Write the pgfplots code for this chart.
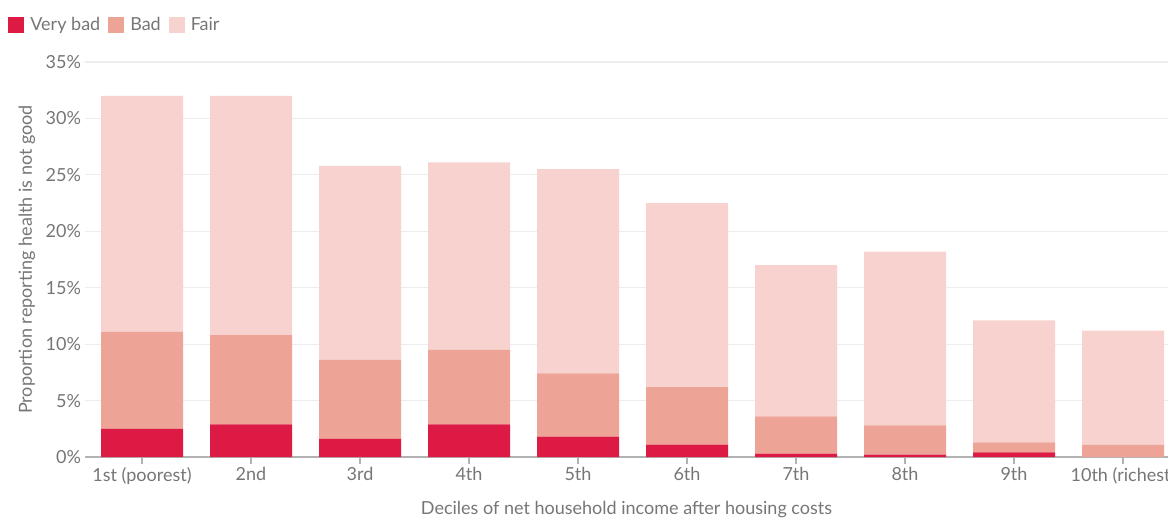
\documentclass[border=0pt]{standalone}
\usepackage{pgfplots}
\pgfplotsset{compat=1.18}
\usepackage{pgfplotstable}
\usepackage{fontspec}
\setmainfont{Lato}

\definecolor{verybad}{HTML}{DC1A44}
\definecolor{bad}{HTML}{EDA396}
\definecolor{fair}{HTML}{F7D2CF}
\definecolor{txt}{HTML}{767676}

\pgfplotstableread{
x verybad bad fair
0 2.5 8.6 20.9
1 2.9 7.9 21.2
2 1.6 7.0 17.2
3 2.9 6.6 16.6
4 1.8 5.6 18.1
5 1.1 5.1 16.3
6 0.3 3.3 13.4
7 0.2 2.6 15.4
8 0.4 0.9 10.8
9 0.0 1.1 10.1
}\health

\begin{document}
\begin{tikzpicture}
\begin{axis}[
  name=ax,
  width=541.5pt, height=197.5pt,
  scale only axis,
  ybar stacked,
  bar width=41pt,
  xmin=-0.523, xmax=9.413,
  ymin=0, ymax=35,
  ytick={0,5,...,35},
  yticklabel={\pgfmathprintnumber{\tick}\%},
  xtick=data,
  xticklabels={1st (poorest),2nd,3rd,4th,5th,6th,7th,8th,9th,10th (richest)},
  /pgf/number format/assume math mode=true,
  font=\fontsize{9pt}{11pt}\selectfont,
  ticklabel style={text=txt},
  separate axis lines,
  axis x line*=bottom,
  axis y line*=left,
  y axis line style={draw=none},
  x axis line style={draw=gray!60, line width=0.6pt},
  ymajorgrids,
  grid style={draw=black!7, line width=0.6pt},
  xtick style={draw=gray!60, line width=0.6pt},
  ytick style={draw=none},
  tick align=outside,
  major tick length=3.5pt,
  xticklabel style={yshift=2pt},
  yticklabel style={xshift=5pt},
  xlabel={Deciles of net household income after housing costs},
  ylabel={Proportion reporting health is not good},
  every axis x label/.style={at={(axis description cs:0.5,0)}, yshift=-26.5pt, anchor=center, text=txt},
  every axis y label/.style={at={(axis description cs:0,0.5)}, xshift=-29pt, rotate=90, anchor=center, text=txt},
  legend columns=3,
  legend style={at={(axis description cs:0,1)}, anchor=west, xshift=-38.5pt, yshift=18.5pt,
    draw=none, fill=none, inner sep=0pt, text=txt,
    /tikz/every odd column/.append style={column sep=3pt},
    /tikz/every even column/.append style={column sep=4pt},
    nodes={inner sep=0pt, anchor=west}},
  legend image code/.code={\fill[#1] (0pt,-4pt) rectangle (8pt,4pt);},
]
\addplot[fill=verybad, draw=none] table[x=x, y=verybad] {\health};
\addplot[fill=bad, draw=none] table[x=x, y=bad] {\health};
\addplot[fill=fair, draw=none] table[x=x, y=fair] {\health};
\legend{Very bad, Bad, Fair}
\end{axis}
\pgfresetboundingbox
\path[use as bounding box] ([xshift=-42.5pt,yshift=-30.5pt]ax.south west) rectangle ([yshift=31pt]ax.north east);
\end{tikzpicture}
\end{document}
